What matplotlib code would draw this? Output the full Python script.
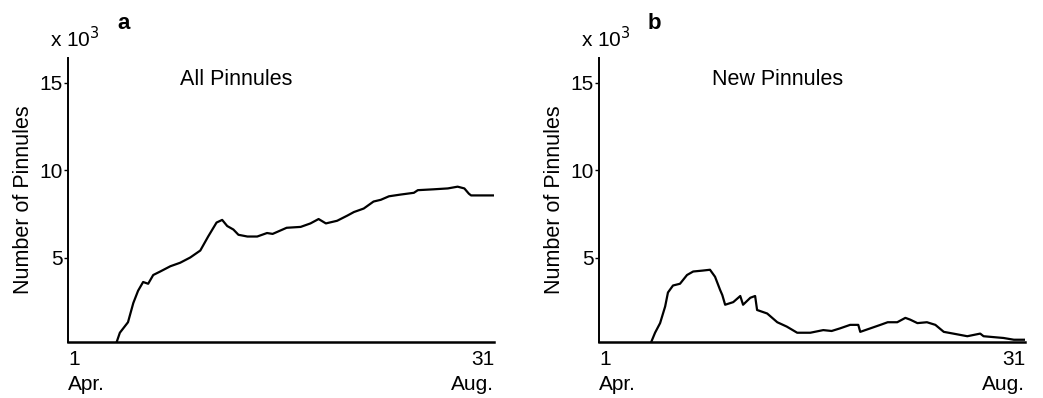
import matplotlib
matplotlib.use("Agg")
import matplotlib.pyplot as plt

plt.rcParams['font.family'] = ['Liberation Sans', 'DejaVu Sans']

# ---------------------- Data ---------------------- #
# day of season (1 = 1 Apr, 153 = 31 Aug), values in thousands
days_all = [1, 18, 19.5, 22.4, 24.3, 26, 27.8, 29.6, 31.4, 33.9, 37.5, 41, 44.6,
            48.2, 51, 54, 56, 57.8, 60, 61.8, 65, 68.5, 72, 74, 79, 84, 87.5,
            90.4, 93, 97, 100.7, 103, 106.5, 110, 112.6, 115.5, 119.7, 124.4,
            125.8, 131.5, 136.5, 140, 142.4, 144, 144.8, 153]
all_pinnules = [0, 0, 0.7, 1.3, 2.4, 3.1, 3.6, 3.5, 4.0, 4.2, 4.5, 4.7, 5.0,
                5.4, 6.2, 7.0, 7.15, 6.8, 6.6, 6.3, 6.2, 6.2, 6.4, 6.35, 6.7,
                6.75, 6.95, 7.2, 6.95, 7.1, 7.4, 7.6, 7.8, 8.2, 8.3, 8.5, 8.6,
                8.7, 8.85, 8.9, 8.95, 9.05, 8.95, 8.65, 8.55, 8.55]

days_new = [1, 19.2, 21, 22.8, 24.6, 25.6, 27.4, 29.9, 32.4, 34.6, 37.8, 40.6,
            42.4, 44.2, 45, 46, 48.9, 51.4, 52.4, 55, 56.7, 57.4, 61, 64.6, 68,
            71.7, 76.4, 81, 84, 87, 90.6, 93.5, 94.2, 97.8, 101.4, 104, 107.4,
            110.3, 112, 114.6, 118, 121, 124, 127.4, 132.4, 137, 138.2, 141.7,
            145.3, 149, 153]
new_pinnules = [0, 0, 0.7, 1.25, 2.2, 3.0, 3.4, 3.5, 4.0, 4.2, 4.25, 4.3, 3.9,
                3.15, 2.85, 2.3, 2.45, 2.8, 2.3, 2.7, 2.8, 2.0, 1.8, 1.3, 1.05,
                0.7, 0.7, 0.85, 0.8, 0.95, 1.15, 1.15, 0.75, 0.95, 1.15, 1.3,
                1.3, 1.55, 1.45, 1.25, 1.3, 1.15, 0.75, 0.65, 0.5, 0.65, 0.5,
                0.45, 0.4, 0.3, 0.3]

y_ticks = [5, 10, 15]
x_ticks = [1, 153]
x_tick_labels = ["1\nApr.", "31\nAug."]

# letter, title, x, y, axes left, title x-centre
panels = [
    ("a", "All Pinnules", days_all, all_pinnules, 0.0652, 0.395),
    ("b", "New Pinnules", days_new, new_pinnules, 0.5743, 0.418),
]

# ---------------------- Plot ---------------------- #
fig = plt.figure(figsize=(10.43, 3.98), dpi=100)

for letter, title, x, y, left, title_x in panels:
    ax = fig.add_axes([left, 0.1407, 0.4085, 0.7133])
    ax.plot(x, y, color="black", lw=1.6)
    ax.set_xlim(1, 153)
    ax.set_ylim(0.17, 16.4)

    ax.spines["top"].set_visible(False)
    ax.spines["right"].set_visible(False)
    ax.spines["left"].set_linewidth(1.4)
    ax.spines["bottom"].set_linewidth(1.8)

    ax.set_yticks(y_ticks)
    ax.set_yticklabels([str(t) for t in y_ticks], fontsize=15)
    ax.tick_params(axis="y", length=3, width=1, pad=1)
    ax.set_xticks(x_ticks)
    ax.set_xticklabels(x_tick_labels, fontsize=15, linespacing=1.35)
    ax.tick_params(axis="x", length=0, pad=6)
    labels = ax.get_xticklabels()
    labels[0].set_ha("left")
    labels[1].set_ha("right")

    ax.set_ylabel("Number of Pinnules", fontsize=15.5, labelpad=4)
    ax.text(title_x, 0.925, title, transform=ax.transAxes, ha="center",
            va="center", fontsize=15.5)
    ax.text(-0.042, 1.07, "x 10$^3$", transform=ax.transAxes, ha="left",
            va="center", fontsize=15)
    ax.text(0.13, 1.123, letter, transform=ax.transAxes, ha="center",
            va="center", fontsize=16, fontweight="bold")

fig.savefig("out.png", dpi=100)
